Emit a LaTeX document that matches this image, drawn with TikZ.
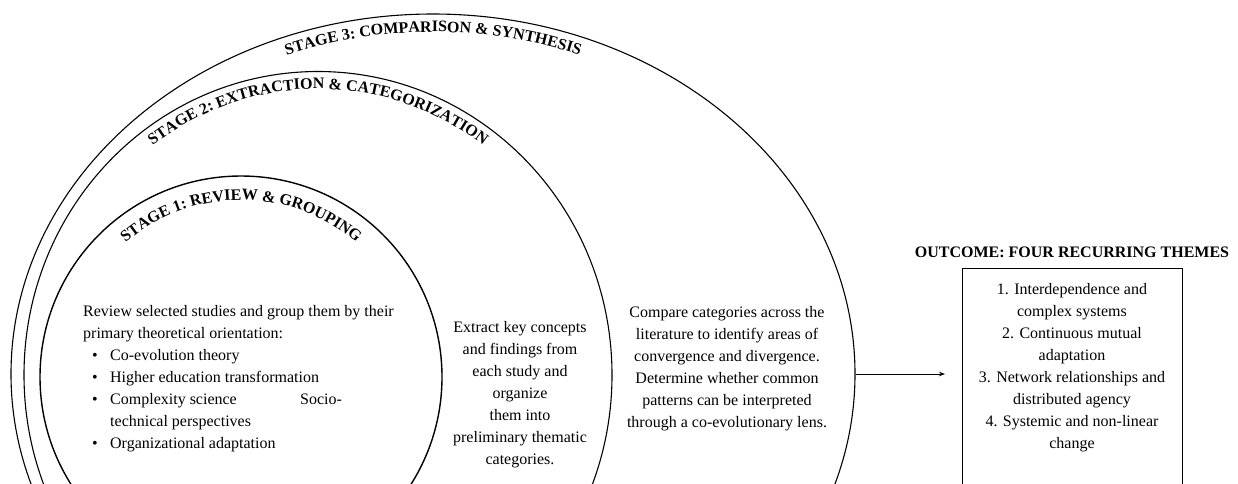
\documentclass[tikz,border=0pt]{standalone}
\usepackage{fontspec}
\setmainfont{Liberation Serif}
\usetikzlibrary{shapes.geometric,arrows.meta,decorations.text}
\newcommand\bodyfont{\fontsize{16}{22}\selectfont}
\newcommand\labfont{\bfseries\fontsize{16}{16}\selectfont}
\begin{document}
\begin{tikzpicture}[x=1pt,y=1pt,
  ring/.style={draw, ellipse, inner sep=0pt, line width=1.1pt},
  body/.style={font=\bodyfont, inner sep=0pt},
  lab/.style={decorate, decoration={text along path, text align=center, text={#1}}},
  outbox/.style={draw, line width=0.8pt, inner sep=0pt, minimum width=220, minimum height=300, anchor=north},
  flow/.style={line width=0.9pt, -{Stealth[length=6pt,width=4.5pt]}}
]
\useasboundingbox (0,0) rectangle (1238,-483);
\begin{scope}
  \clip (0,0) rectangle (1238,-483);
  \node[ring, minimum width=844, minimum height=720] (s3) at (433,-374) {};
  \node[ring, minimum width=588, minimum height=607] (s2) at (318,-375) {};
  \node[ring, line width=1.4pt, minimum width=402, minimum height=402] (s1) at (241,-377) {};
  \node[outbox] (box) at (1072,-268) {};
\end{scope}

% curved stage labels
\path[lab={|\labfont|STAGE 3: COMPARISON {\&} SYNTHESIS}]
  (433,-374) ++(160:404 and 342) arc[start angle=160, end angle=20, x radius=404, y radius=342];
\path[lab={|\labfont|STAGE 2: EXTRACTION {\&} CATEGORIZATION}]
  (318,-375) ++(170:277 and 286) arc[start angle=170, end angle=10, x radius=277, y radius=286];
\path[lab={|\labfont|STAGE 1: REVIEW {\&} GROUPING}]
  (241,-377) ++(170:177 and 177) arc[start angle=170, end angle=10, x radius=177, y radius=177];

% texts
\node[body, anchor=north west, align=left] (t1) at (83,-305) {Review selected studies and group them by their\\
primary theoretical orientation:\\
\hspace*{9pt}\makebox[18pt][l]{\textbullet}Co-evolution theory\\
\hspace*{9pt}\makebox[18pt][l]{\textbullet}Higher education transformation\\
\hspace*{9pt}\makebox[18pt][l]{\textbullet}\makebox[190pt][l]{Complexity science}Socio-\\
\hspace*{27pt}technical perspectives\\
\hspace*{9pt}\makebox[18pt][l]{\textbullet}Organizational adaptation};

\node[body, anchor=north, align=center] (t2) at (520,-321) {Extract key concepts\\and findings from\\each study and\\organize\\them into\\preliminary thematic\\categories.};

\node[body, anchor=north, align=center] (t3) at (727,-306) {Compare categories across the\\literature to identify areas of\\convergence and divergence.\\Determine whether common\\patterns can be interpreted\\through a co-evolutionary lens.};

\node[font=\bfseries\fontsize{16}{22}\selectfont, inner sep=0pt, anchor=base] (title) at (1072,-257) {OUTCOME: FOUR RECURRING THEMES};

\node[body, anchor=north, align=center] (themes) at (1072,-283) {1. Interdependence and\\complex systems\\2. Continuous mutual\\adaptation\\3. Network relationships and\\distributed agency\\4. Systemic and non-linear\\change};

\coordinate (tip) at (945,-374);
\draw[flow] (s3.east) -- (tip);
\end{tikzpicture}
\end{document}
